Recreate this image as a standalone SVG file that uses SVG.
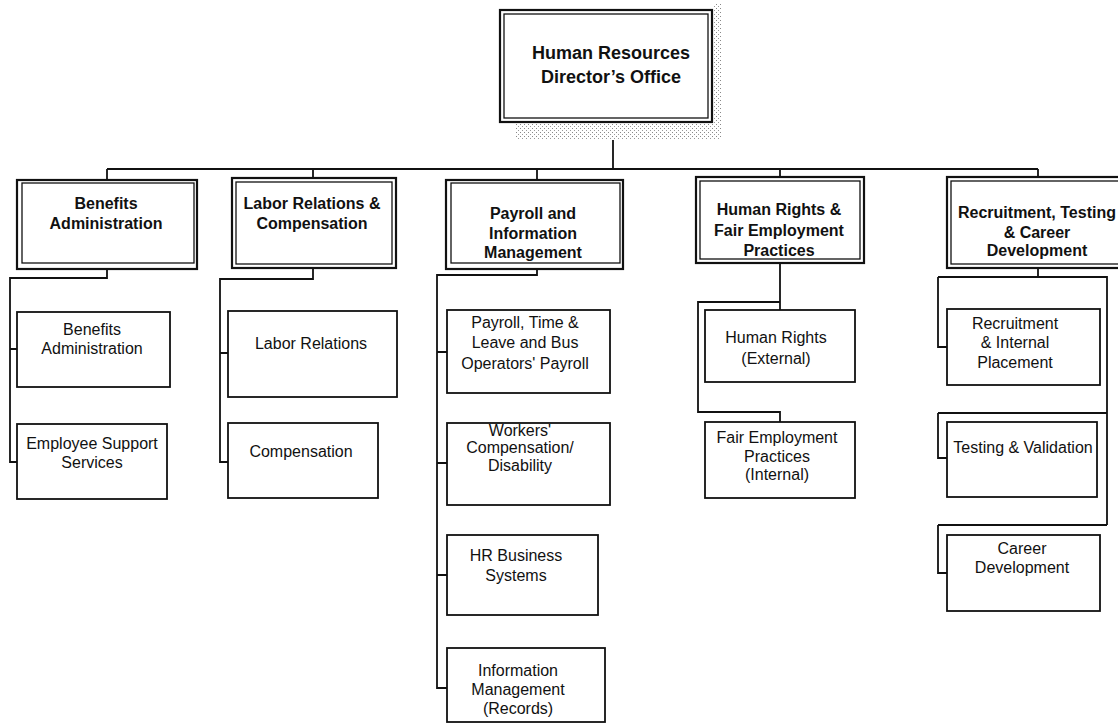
<svg xmlns="http://www.w3.org/2000/svg" width="1118" height="724" viewBox="0 0 1118 724">
<defs>
<pattern id="stip" width="4" height="4" patternUnits="userSpaceOnUse">
<rect width="4" height="4" fill="#fff"/>
<rect x="0" y="0" width="1" height="1" fill="#888"/>
<rect x="2" y="2" width="1" height="1" fill="#999"/>
</pattern>
<pattern id="hatch" width="3" height="3" patternUnits="userSpaceOnUse" patternTransform="rotate(45)">
<rect width="3" height="3" fill="#aaa"/>
<rect width="1" height="3" fill="#333"/>
</pattern>
</defs>
<style>
.outer{fill:none;stroke:#111;stroke-width:2.2}
.inner{fill:none;stroke:#111;stroke-width:1.3}
.box{fill:#fff;stroke:#111;stroke-width:1.8}
.conn{fill:none;stroke:#111;stroke-width:1.8}
.hd{font-family:"Liberation Sans",Arial,sans-serif;font-weight:bold;font-size:16px;fill:#111;text-anchor:middle}
.top{font-family:"Liberation Sans",Arial,sans-serif;font-weight:bold;font-size:18px;fill:#111;text-anchor:middle}
.ch{font-family:"Liberation Sans",Arial,sans-serif;font-size:16px;fill:#111;text-anchor:middle}
</style>
<rect width="1118" height="724" fill="#fff"/>

<g id="connectors">
<path class="conn" d="M613,124 V169 M107,169 H1038 M107,169 V180 M313,169 V178 M537,169 V180 M780,169 V177 M1038,169 V177"/>
<path class="conn" d="M107,269 V278 H10 V462 H17 M10,349 H17"/>
<path class="conn" d="M313,268 V279 H220 V462 H228 M220,353 H228"/>
<path class="conn" d="M537,269 V275 H437 V688 H447 M437,352 H447 M437,463 H447 M437,575 H447"/>
<path class="conn" d="M780,263 V310 M780,302 H698 V412 H780 V422"/>
<path class="conn" d="M1038,268 V277 M938,277 H1107 V525 M938,277 V347 H947 M938,413 H1107 M938,413 V458 H947 M938,525 H1107 M938,525 V573 H947"/>
</g>

<g id="director">
<rect x="515" y="123" width="206" height="17" fill="url(#stip)"/>
<rect x="713" y="4" width="8" height="136" fill="url(#stip)"/>
<rect x="500" y="10" width="212" height="112" fill="#fff" class="outer"/>
<rect x="504" y="14" width="204" height="104" class="inner"/>
<text class="top" x="611" y="59">Human Resources</text>
<text class="top" x="611" y="83">Director’s Office</text>
</g>

<g id="h-benefits">
<rect x="17" y="180" width="180" height="89" fill="url(#hatch)" class="outer"/>
<rect x="22" y="183" width="172" height="80" fill="#fff" class="inner"/>
<text class="hd" x="106" y="209">Benefits</text>
<text class="hd" x="106" y="229">Administration</text>
</g>

<g id="h-labor">
<rect x="232" y="178" width="164" height="90" fill="#fff" class="outer"/>
<rect x="236" y="182" width="156" height="82" class="inner"/>
<text class="hd" x="312" y="209">Labor Relations &amp;</text>
<text class="hd" x="312" y="229">Compensation</text>
</g>

<g id="h-payroll">
<rect x="446" y="180" width="177" height="89" fill="url(#hatch)" class="outer"/>
<rect x="451" y="183" width="169" height="80" fill="#fff" class="inner"/>
<text class="hd" x="533" y="219">Payroll and</text>
<text class="hd" x="533" y="239">Information</text>
<text class="hd" x="533" y="258">Management</text>
</g>

<g id="h-rights">
<rect x="696" y="177" width="168" height="86" fill="#fff" class="outer"/>
<rect x="700" y="181" width="160" height="78" class="inner"/>
<text class="hd" x="779" y="215">Human Rights &amp;</text>
<text class="hd" x="779" y="236">Fair Employment</text>
<text class="hd" x="779" y="256">Practices</text>
</g>

<g id="h-recruit">
<rect x="947" y="177" width="180" height="91" fill="#fff" class="outer"/>
<rect x="951" y="181" width="172" height="83" class="inner"/>
<text class="hd" x="1037" y="218">Recruitment, Testing</text>
<text class="hd" x="1037" y="238">&amp; Career</text>
<text class="hd" x="1037" y="256">Development</text>
</g>

<g id="c-benefits-admin">
<rect class="box" x="17" y="312" width="153" height="75"/>
<text class="ch" x="92" y="335">Benefits</text>
<text class="ch" x="92" y="354">Administration</text>
</g>
<g id="c-employee-support">
<rect class="box" x="17" y="424" width="150" height="75"/>
<text class="ch" x="92" y="449">Employee Support</text>
<text class="ch" x="92" y="468">Services</text>
</g>
<g id="c-labor">
<rect class="box" x="228" y="311" width="169" height="86"/>
<text class="ch" x="311" y="349">Labor Relations</text>
</g>
<g id="c-comp">
<rect class="box" x="228" y="423" width="150" height="75"/>
<text class="ch" x="301" y="457">Compensation</text>
</g>
<g id="c-payroll-time">
<rect class="box" x="447" y="310" width="163" height="83"/>
<text class="ch" x="525" y="328">Payroll, Time &amp;</text>
<text class="ch" x="525" y="348">Leave and Bus</text>
<text class="ch" x="525" y="369">Operators' Payroll</text>
</g>
<g id="c-workers">
<rect class="box" x="447" y="423" width="163" height="82"/>
<text class="ch" x="520" y="436">Workers'</text>
<text class="ch" x="520" y="453">Compensation/</text>
<text class="ch" x="520" y="471">Disability</text>
</g>
<g id="c-hrbs">
<rect class="box" x="447" y="535" width="151" height="80"/>
<text class="ch" x="516" y="561">HR Business</text>
<text class="ch" x="516" y="581">Systems</text>
</g>
<g id="c-info">
<rect class="box" x="447" y="648" width="158" height="74"/>
<text class="ch" x="518" y="676">Information</text>
<text class="ch" x="518" y="695">Management</text>
<text class="ch" x="518" y="714">(Records)</text>
</g>
<g id="c-human-rights">
<rect class="box" x="705" y="310" width="150" height="72"/>
<text class="ch" x="776" y="343">Human Rights</text>
<text class="ch" x="776" y="364">(External)</text>
</g>
<g id="c-fair">
<rect class="box" x="705" y="422" width="150" height="76"/>
<text class="ch" x="777" y="443">Fair Employment</text>
<text class="ch" x="777" y="462">Practices</text>
<text class="ch" x="777" y="480">(Internal)</text>
</g>
<g id="c-recruit">
<rect class="box" x="947" y="309" width="153" height="76"/>
<text class="ch" x="1015" y="329">Recruitment</text>
<text class="ch" x="1015" y="348">&amp; Internal</text>
<text class="ch" x="1015" y="368">Placement</text>
</g>
<g id="c-testing">
<rect class="box" x="947" y="422" width="150" height="75"/>
<text class="ch" x="1023" y="453">Testing &amp; Validation</text>
</g>
<g id="c-career">
<rect class="box" x="947" y="535" width="153" height="76"/>
<text class="ch" x="1022" y="554">Career</text>
<text class="ch" x="1022" y="573">Development</text>
</g>
</svg>
